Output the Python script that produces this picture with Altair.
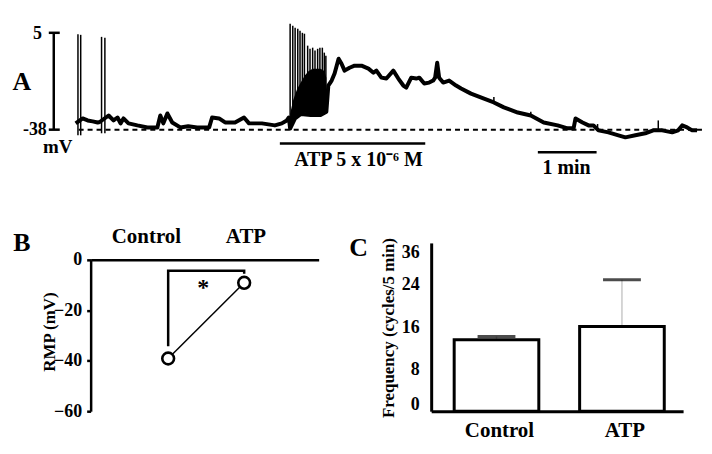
import altair as alt
import pandas as pd

FONT = "Liberation Serif"

# ---------------- Panel A : membrane potential trace ----------------
trace_t = [0, 7.1, 12.2, 17.3, 22.4, 24.5, 33.6, 38.6, 42.7, 45.8,
           48.8, 53.9, 63, 73.2, 83.4, 86.4, 89.5, 93.6, 98.6, 106.8,
           114.9, 124, 136.3, 139.3, 146.4, 152.6, 162.7, 171.9, 177, 190.2,
           203.4, 210.5, 215.6, 217.7, 219, 224, 230, 240, 250, 256,
           258, 261.4, 264.4, 268.5, 271.5, 274.6, 279.7, 284.8, 291.9, 299,
           304.1, 307.1, 312.2, 317.3, 324.4, 329.5, 334.6, 337.6, 342.7, 347.8,
           350.9, 356, 361, 365.1, 367.1, 369.2, 371.2, 375.3, 381.4, 388.5,
           393.6, 403.7, 417, 427.1, 437.3, 451.5, 464.8, 478, 492.2, 502.4,
           508.5, 510.5, 517.6, 523.8, 528.8, 533.9, 544.1, 554.3, 561.4, 571.6,
           581.7, 589.9, 599, 609.2, 615.3, 619.4, 624.5, 629.6, 634.6]
trace_mv = [-35.2, -33.0, -33.9, -34.3, -34.8, -34.6, -31.7, -33.9, -32.6, -35.2,
            -33.0, -35.2, -36.1, -37.0, -37.0, -31.7, -35.2, -30.8, -34.8, -37.0,
            -36.5, -37.0, -37.0, -32.6, -33.0, -34.8, -34.8, -32.6, -35.2, -35.2,
            -36.1, -35.2, -33.9, -32.6, -37.5, -33.0, -31.0, -31.5, -31.5, -30.0,
            -18.4, -16.2, -13.1, -6.5, -8.7, -11.8, -10.5, -9.6, -9.6, -10.9,
            -12.7, -11.8, -14.9, -15.3, -11.8, -15.3, -18.4, -19.3, -14.9, -15.3,
            -14.9, -17.5, -17.1, -16.2, -14.9, -8.3, -14.9, -17.1, -16.2, -18.4,
            -19.7, -22.0, -24.2, -25.9, -28.1, -30.4, -31.7, -34.8, -36.1, -37.4,
            -37.4, -33.0, -34.8, -36.1, -36.1, -38.3, -39.2, -40.5, -41.4, -40.5,
            -39.6, -38.3, -38.3, -39.2, -38.3, -36.1, -37.0, -38.3, -38.3]

spike_t = [2.3, 5.1, 26.4, 29.8, 219.0, 221.7, 224.1, 226.8, 229.1, 231.5, 233.6, 236.9,
           239.3, 242.0, 244.4, 247.1, 249.4, 251.9, 253.9, 255.5, 427.1, 464.8, 533.0, 595.0]
spike_top = [4.4, 4.1, 3.2, 2.8, 9.0, 8.1, 7.2, 6.8, 5.9, 5.0, 4.6, -0.7,
             -2.1, -1.6, -2.9, -2.1, -1.6, -1.6, -3.8, -5.2, -23.5, -30.0, -35.5, -33.9]
spike_bottom = [-40.5, -40.5, -39.6, -39.6, -37.5, -35.0, -33.0, -32.0, -31.0, -30.5, -30.5, -31.0,
                -31.5, -31.5, -31.5, -31.5, -31.5, -31.0, -30.5, -30.0, -26.0, -32.0, -38.0, -38.5]

burst_t = [219, 222, 226, 230, 234, 238, 242, 246, 250, 254, 256]
burst_low = [-37.5, -34, -32, -31, -30.5, -31, -31.5, -31.5, -31.5, -30.5, -30]
burst_high = [-31, -25, -20, -17, -14, -12, -11, -11, -11, -12, -15]

resting_mv = -38
scale_mv = [5, -38]
atp_period = [208.5, 357]
one_min = [472, 532]

A_W, A_H = 696, 200
T_DOM = [-66.1, 641.7]
V_DOM = [-72.8, 15.6]


def tx(field):
    return alt.X(field, type="quantitative", scale=alt.Scale(domain=T_DOM, nice=False, zero=False), axis=None)


def vy(field):
    return alt.Y(field, type="quantitative", scale=alt.Scale(domain=V_DOM, nice=False, zero=False), axis=None)


def label(text, x, y, size, align="center", baseline="middle"):
    return alt.Chart(pd.DataFrame({"s": [text]})).mark_text(
        font=FONT, fontWeight="bold", fontSize=size, align=align, baseline=baseline, color="black"
    ).encode(x=alt.value(x), y=alt.value(y), text="s:N")


base_df = pd.DataFrame({"t1": [3], "t2": [640], "v": [resting_mv]})
dashed = alt.Chart(base_df).mark_rule(color="black", strokeWidth=2, strokeDash=[5, 4]).encode(
    x=tx("t1"), x2="t2", y=vy("v"))

burst = alt.Chart(pd.DataFrame({"t": burst_t, "low": burst_low, "high": burst_high})).mark_area(
    color="black").encode(x=tx("t"), y=vy("low"), y2="high")

spikes = alt.Chart(pd.DataFrame({"t": spike_t, "top": spike_top, "bottom": spike_bottom})).mark_rule(
    color="black", strokeWidth=1.5).encode(x=tx("t"), y=vy("top"), y2="bottom")

trace = alt.Chart(pd.DataFrame({"t": trace_t, "v": trace_mv})).mark_line(
    color="black", strokeWidth=4, strokeJoin="round").encode(x=tx("t"), y=vy("v"))

vbar = alt.Chart(pd.DataFrame({"t": [-22.4], "v1": [scale_mv[0]], "v2": [scale_mv[1]]})).mark_rule(
    color="black", strokeWidth=2.5).encode(x=tx("t"), y=vy("v1"), y2="v2")
vticks = alt.Chart(pd.DataFrame({"t1": [-27.5, -27.5], "t2": [-16.3, -16.3], "v": scale_mv})).mark_rule(
    color="black", strokeWidth=2.5).encode(x=tx("t1"), x2="t2", y=vy("v"))
atp_bar = alt.Chart(pd.DataFrame({"t1": [atp_period[0]], "t2": [atp_period[1]], "v": [-44.1]})).mark_rule(
    color="black", strokeWidth=2.5).encode(x=tx("t1"), x2="t2", y=vy("v"))
min_bar = alt.Chart(pd.DataFrame({"t1": [one_min[0]], "t2": [one_min[1]], "v": [-48.0]})).mark_rule(
    color="black", strokeWidth=2.5).encode(x=tx("t1"), x2="t2", y=vy("v"))

panelA = alt.layer(
    dashed, burst, spikes, trace, vbar, vticks, atp_bar, min_bar,
    label("5", 31, 25, 18, align="right"),
    label("-38", 36, 122, 18, align="right"),
    label("mV", 47, 139, 19),
    label("A", 11, 73, 26),
    label("ATP 5 x 10\u207b\u2076 M", 349, 152, 20),
    label("1 min", 558, 160, 20),
).properties(width=A_W, height=A_H)

# ---------------- Panel B : RMP ----------------
b_groups = ["Control", "ATP"]
b_rmp = [-39.1, -9.1]
b_bracket_group = ["Control", "Control", "ATP", "ATP"]
b_bracket_v = [-34.3, -4.3, -4.3, -5.5]

B_W, B_H, B_TOP = 229, 169, 17
bx_scale = alt.Scale(type="point", domain=b_groups, padding=1.0066, align=0.51)
by_scale = alt.Scale(domain=[-60, 0], nice=False, zero=False, range=[B_H, B_TOP])
bx_axis = alt.Axis(orient="top", labels=False, ticks=False, title=None, domainWidth=2.5,
                   domainColor="black", grid=False, offset=-B_TOP)
by_axis = alt.Axis(values=[0, -20, -40, -60], tickSize=4, tickWidth=2.5, tickColor="black",
                   domainWidth=2.5, domainColor="black", grid=False, labelFont=FONT,
                   labelFontWeight="bold", labelFontSize=18, labelColor="black", labelPadding=5,
                   title="RMP (mV)", titleFont=FONT, titleFontWeight="bold", titleFontSize=17,
                   titleColor="black", titleX=-41, titleY=72 + B_TOP, titleAngle=270,
                   titleAlign="center", titleBaseline="middle")

b_df = pd.DataFrame({"group": b_groups, "rmp": b_rmp})
b_line = alt.Chart(b_df).mark_line(color="black", strokeWidth=1.5).encode(
    x=alt.X("group:N", scale=bx_scale, axis=bx_axis, sort=b_groups),
    y=alt.Y("rmp:Q", scale=by_scale, axis=by_axis))
b_pts = alt.Chart(b_df).mark_point(shape="circle", filled=True, fill="white", stroke="black",
                                   strokeWidth=2.6, size=140, opacity=1).encode(
    x=alt.X("group:N", scale=bx_scale, axis=bx_axis, sort=b_groups),
    y=alt.Y("rmp:Q", scale=by_scale, axis=by_axis))
br_df = pd.DataFrame({"group": b_bracket_group, "v": b_bracket_v, "o": [0, 1, 2, 3]})
b_bracket = alt.Chart(br_df).mark_line(color="black", strokeWidth=2.5).encode(
    x=alt.X("group:N", scale=bx_scale, axis=bx_axis, sort=b_groups),
    y=alt.Y("v:Q", scale=by_scale, axis=by_axis), order="o:Q")

panelB = alt.layer(
    b_bracket, b_line, b_pts,
    label("*", 113, 28 + B_TOP, 24),
    label("Control", 56, -23 + B_TOP, 21),
    label("ATP", 156, -23 + B_TOP, 21),
    label("B", -69, -17 + B_TOP, 26),
).properties(width=B_W, height=B_H)

# ---------------- Panel C : frequency ----------------
c_groups = ["Control", "ATP"]
c_freq = [13.6, 16.1]
c_err_top = [14.2, 25.0]
c_tick_labels = ["0", "8", "16", "24", "36"]
c_tick_pos = [1.3, 8, 16, 24, 30.2]

C_W, C_H = 253, 169
cx_scale = alt.Scale(domain=c_groups, paddingInner=0.3254, paddingOuter=0.1667, align=0.55)
cy_scale = alt.Scale(domain=[0, 32], nice=False, zero=True)
label_expr = " : ".join(
    [f"abs(datum.value - {p}) < 0.5 ? '{l}'" for p, l in zip(c_tick_pos, c_tick_labels)]) + " : ''"
cx_axis = alt.Axis(title=None, ticks=False, tickSize=0, labelPadding=8, labelFont=FONT,
                   labelFontWeight="bold", labelFontSize=21, labelColor="black", labelAngle=0,
                   labelOffset=3, domainWidth=3, domainColor="black", grid=False)
cy_axis = alt.Axis(values=c_tick_pos, labelExpr=label_expr, ticks=False, tickSize=0, labelPadding=12,
                   labelFont=FONT, labelFontWeight="bold", labelFontSize=18, labelColor="black",
                   domainWidth=3, domainColor="black", grid=False,
                   title="Frequency (cycles/5 min)", titleFont=FONT, titleFontWeight="bold",
                   titleFontSize=17, titleColor="black", titleX=-43, titleY=85, titleAngle=270,
                   titleAlign="center", titleBaseline="middle")

c_df = pd.DataFrame({"group": c_groups, "freq": c_freq, "err": c_err_top})
c_x = alt.X("group:N", scale=cx_scale, axis=cx_axis, sort=c_groups)
c_err = alt.Chart(c_df).mark_rule(color="#c8c8c8", strokeWidth=1.5).encode(
    x=c_x, y=alt.Y("freq:Q", scale=cy_scale, axis=cy_axis), y2="err")
c_cap = alt.Chart(c_df).mark_tick(color="black", thickness=3, size=38, orient="horizontal").encode(
    x=c_x, y=alt.Y("err:Q", scale=cy_scale, axis=cy_axis))
c_bar = alt.Chart(c_df).mark_bar(fill="white", stroke="black", strokeWidth=3).encode(
    x=c_x, y=alt.Y("freq:Q", scale=cy_scale, axis=cy_axis))

panelC = alt.layer(
    c_err, c_bar, c_cap,
    label("C", -73, 5, 26),
).properties(width=C_W, height=C_H)


# ---------------- layout ----------------
def spacer(w, h):
    return alt.Chart(pd.DataFrame({"a": [0]})).mark_point(opacity=0).encode(
        x=alt.value(0), y=alt.value(0)).properties(width=w, height=h)


bottom = alt.hconcat(spacer(80, C_H), panelB, spacer(113, C_H), panelC, spacing=0, bounds="flush")

chart = alt.vconcat(panelA, bottom, spacing=35, bounds="flush").properties(
    padding=0, background="white"
).configure_view(stroke=None).configure_axis(labelFont=FONT, titleFont=FONT)

chart.save("out.html", embed_options={"renderer": "svg", "actions": False})
